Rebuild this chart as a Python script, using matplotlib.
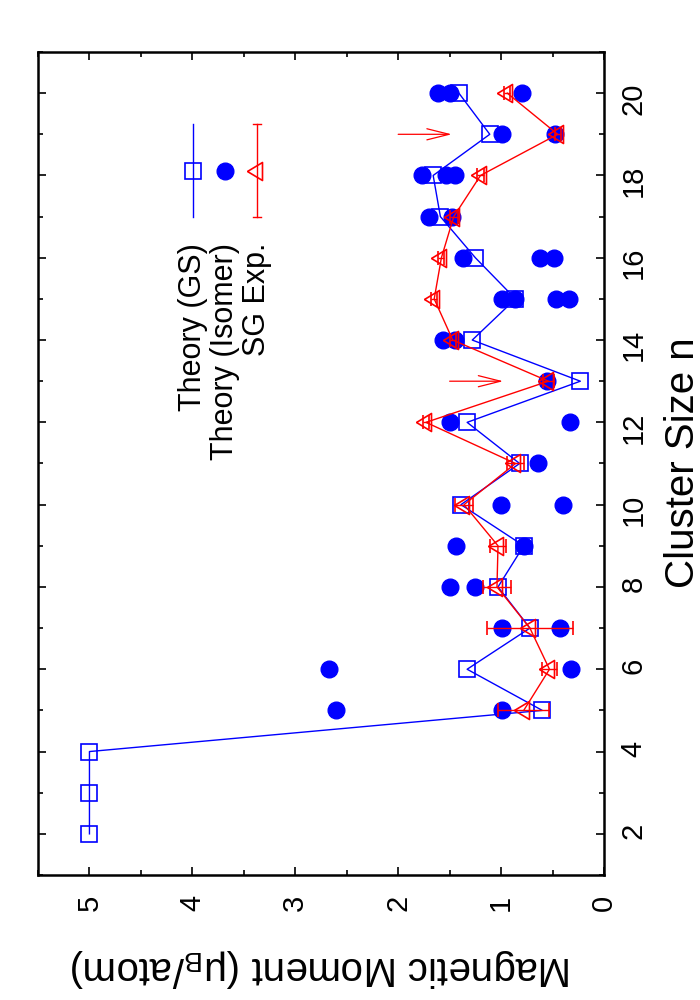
import matplotlib
matplotlib.use('Agg')
import matplotlib.pyplot as plt
from matplotlib.ticker import MultipleLocator
from matplotlib.patches import FancyArrowPatch

# ground state theory (squares + line)
gs_n = [2, 3, 4, 5, 6, 7, 8, 9, 10, 11, 12, 13, 14, 15, 16, 17, 18, 19, 20]
gs_m = [5.0, 5.0, 5.0, 0.60, 1.33, 0.72, 1.03, 0.78, 1.39, 0.82, 1.33, 0.23,
        1.28, 0.86, 1.25, 1.59, 1.66, 1.11, 1.41]

# isomers (filled circles)
iso_n = [5, 5, 6, 6, 7, 7, 8, 8, 9, 9, 10, 10, 11, 12, 12, 13, 14, 14,
         15, 15, 15, 15, 16, 16, 16, 17, 17, 18, 18, 18, 19, 19, 20, 20, 20]
iso_m = [0.99, 2.60, 2.67, 0.32, 0.99, 0.43, 1.50, 1.25, 0.78, 1.44, 1.00, 0.40,
         0.64, 1.50, 0.33, 0.55, 1.56, 1.45, 0.99, 0.86, 0.47, 0.34, 1.37, 0.62,
         0.49, 1.70, 1.48, 1.77, 1.54, 1.45, 0.99, 0.48, 1.61, 1.50, 0.80]

# Stern-Gerlach experiment
exp_n = [5, 6, 7, 8, 9, 10, 11, 12, 13, 14, 15, 16, 17, 18, 19, 20]
exp_m = [0.78, 0.53, 0.72, 1.04, 1.03, 1.36, 0.86, 1.73, 0.54, 1.47, 1.65, 1.58,
         1.46, 1.20, 0.45, 0.94]
exp_err = [0.25, 0.07, 0.42, 0.14, 0.08, 0.09, 0.08, 0.03, 0.05, 0.03, 0.03, 0.03,
           0.04, 0.03, 0.03, 0.03]

# arrows: (n, start moment, end moment)
arrows = [(13, 1.50, 0.98), (19, 2.00, 1.48)]

legend_labels = ['Theory (GS)', 'Theory (Isomer)', 'SG Exp.']

plt.rcParams['font.family'] = ['Liberation Sans', 'DejaVu Sans']
plt.rcParams['mathtext.fontset'] = 'custom'
plt.rcParams['mathtext.rm'] = 'Liberation Sans'
plt.rcParams['mathtext.it'] = 'Liberation Sans:italic'

W, H = 700, 1000
fig = plt.figure(figsize=(W / 100, H / 100), dpi=100)


def fx(x):
    return x / W


def fy(y):
    return 1 - y / H


# gnuplot style open triangle, turned on its side, centred on its centroid
tri = [(-10, 0), (5, -9), (5, 9), (-10, 0)]

ax = fig.add_axes([fx(38), fy(875), fx(604) - fx(38), fy(52) - fy(875)])

ax.plot(gs_m, gs_n, color='blue', lw=1, marker='s', ms=12, mfc='none',
        mec='blue', mew=1.2, zorder=3)
ax.plot(iso_m, iso_n, ls='none', marker='o', ms=12, color='blue', zorder=4)
ax.errorbar(exp_m, exp_n, xerr=exp_err, color='red', lw=1, marker=tri, ms=14.4,
            mfc='none', mec='red', mew=1.2, capsize=5, elinewidth=1,
            capthick=1, zorder=5)

for n, m0, m1 in arrows:
    ax.add_patch(FancyArrowPatch((m0, n), (m1, n), color='red', lw=0.9,
                                 arrowstyle='->,head_length=0.8,head_width=0.2',
                                 mutation_scale=20, shrinkA=0, shrinkB=0,
                                 zorder=6))

ax.set_xlim(5.5, 0)
ax.set_ylim(1, 21)
ax.xaxis.set_major_locator(MultipleLocator(1))
ax.xaxis.set_minor_locator(MultipleLocator(0.5))
ax.yaxis.set_major_locator(MultipleLocator(2))
ax.yaxis.set_minor_locator(MultipleLocator(1))
ax.tick_params(which='both', direction='in', top=True, bottom=True,
               left=True, right=True, width=1.2, labelsize=21)
ax.tick_params(which='major', length=6)
ax.tick_params(which='minor', length=3.6)
ax.tick_params(axis='y', labelleft=False, labelright=True, labelrotation=90,
               pad=11)
ax.tick_params(axis='x', labelrotation=90, pad=14)
for s in ax.spines.values():
    s.set_linewidth(1.8)

# axis titles (the whole gnuplot figure is turned on its side)
fig.text(fx(321), fy(957), 'Magnetic Moment (μ$_{\\mathrm{B}}$/atom)',
         rotation=180, rotation_mode='anchor', ha='center', va='baseline',
         fontsize=29)
fig.text(fx(694), fy(463), 'Cluster Size n', rotation=90,
         rotation_mode='anchor', ha='center', va='baseline', fontsize=29)

# hand-made sideways legend
rows = [193, 225, 257]
tr = fig.transFigure
ax.plot([fx(rows[0])] * 2, [fy(124), fy(217)], color='blue', lw=1,
        transform=tr, clip_on=False)
ax.plot([fx(rows[0])], [fy(171)], marker='s', ms=12, mfc='none', mec='blue',
        mew=1.2, transform=tr, clip_on=False)
ax.plot([fx(rows[1])], [fy(171)], marker='o', ms=12, color='blue',
        transform=tr, clip_on=False)
ax.plot([fx(rows[2])] * 2, [fy(124), fy(217)], color='red', lw=1,
        transform=tr, clip_on=False)
for yy in (124, 217):
    ax.plot([fx(rows[2] - 4), fx(rows[2] + 4)], [fy(yy)] * 2, color='red',
            lw=1, transform=tr, clip_on=False)
ax.plot([fx(rows[2])], [fy(171)], marker=tri, ms=14.4, mfc='none', mec='red',
        mew=1.2, transform=tr, clip_on=False)
for x, lab in zip(rows, legend_labels):
    fig.text(fx(x), fy(243), lab, rotation=90, rotation_mode='anchor',
             ha='right', va='center', fontsize=22)

fig.savefig('out.png', dpi=100)
